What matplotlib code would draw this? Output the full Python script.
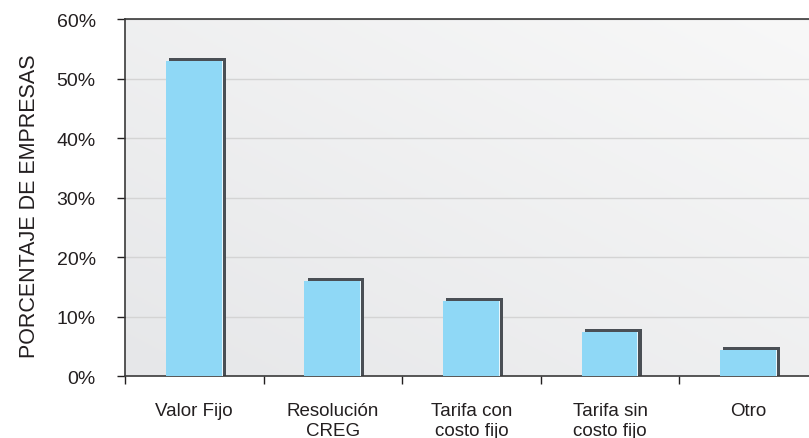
import numpy as np
import matplotlib.pyplot as plt

categorias = ['Valor Fijo', 'Resolución\nCREG', 'Tarifa con\ncosto fijo', 'Tarifa sin\ncosto fijo', 'Otro']
porcentajes = [53.0, 16.0, 12.6, 7.4, 4.4]
yticks = [0, 10, 20, 30, 40, 50, 60]

plt.rcParams['font.family'] = ['Liberation Sans', 'DejaVu Sans']

fig = plt.figure(figsize=(8.09, 4.39), dpi=100)
ax = fig.add_axes([0.1545, 0.1412, 0.8566, 0.8132])

# fondo con degradado gris
yy, xx = np.mgrid[0:1:200j, 0:1:200j]
grad = 0.5 * (1 - yy) + 0.5 * xx
ax.imshow(grad, extent=(-0.5, 4.5, 0, 60), aspect='auto', origin='upper',
          cmap=plt.cm.colors.LinearSegmentedColormap.from_list('bg', ['#e6e7e9', '#f8f8f8']),
          zorder=0)

for t in yticks[1:]:
    ax.axhline(t, color='#d4d4d4', lw=1, zorder=1)

x = np.arange(len(categorias))
w = 0.41
dx, dy = 0.022, 0.5
# sombra de las barras
ax.bar(x + dx, np.array(porcentajes) + dy, width=w, color='#4a4f55', zorder=2)
ax.bar(x, porcentajes, width=w, color='#8fd8f6', edgecolor='none', zorder=3)
ax.bar(x + w / 2 - 0.004, porcentajes, width=0.008, color='#e8f7fd', zorder=4)

ax.set_xlim(-0.5, 4.5)
ax.set_ylim(0, 60)
ax.set_yticks(yticks)
ax.set_yticklabels(['%d%%' % t for t in yticks], fontsize=14, color='#231f20')
ax.set_xticks(np.arange(-0.5, 5, 1))
ax.set_xticklabels([])
ax.set_xticks(x, minor=True)
ax.set_xticklabels(categorias, minor=True, fontsize=13.5, color='#231f20', linespacing=1.2, va='top')
ax.tick_params(axis='x', which='minor', length=0, pad=19)
ax.tick_params(axis='x', which='major', length=6, width=1, color='#231f20', direction='out')
ax.tick_params(axis='y', length=6, width=1, color='#231f20', direction='out', pad=15)

for s in ['left', 'bottom', 'top']:
    ax.spines[s].set_color('#3a3a3a')
    ax.spines[s].set_linewidth(1.2)
ax.spines['right'].set_visible(False)

fig.text(0.037, 0.53, 'PORCENTAJE DE EMPRESAS', rotation=90, ha='center', va='center',
         fontsize=15.5, color='#231f20')

fig.savefig('out.png', dpi=100)
